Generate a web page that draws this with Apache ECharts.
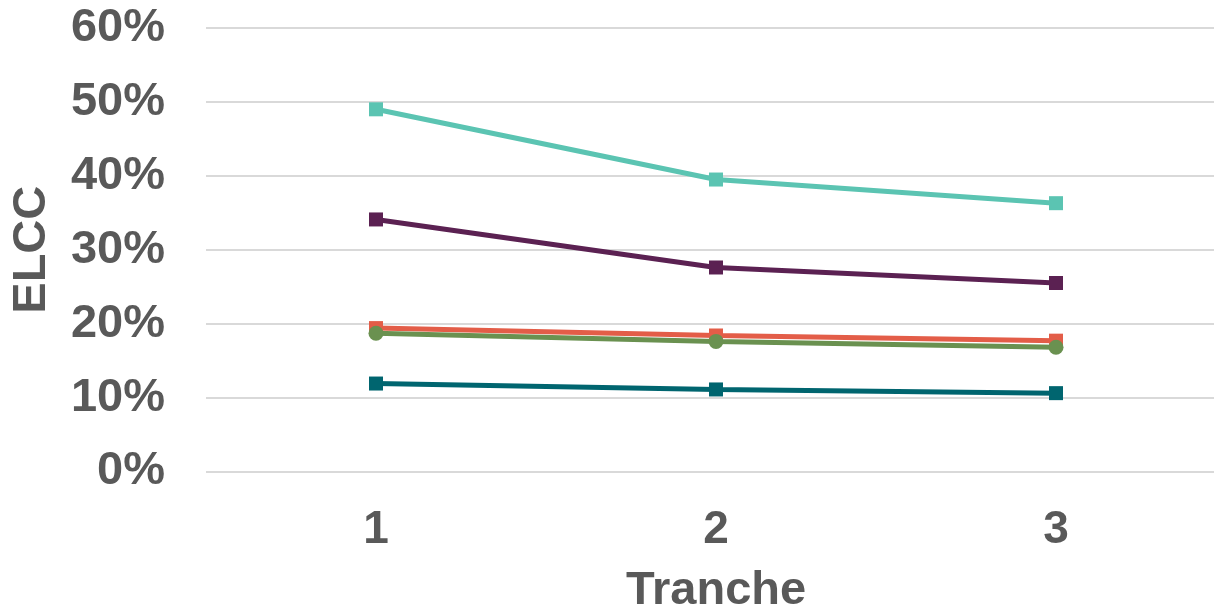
<!DOCTYPE html>
<html>
<head>
<meta charset="utf-8">
<script src="https://cdn.jsdelivr.net/npm/echarts@6/dist/echarts.min.js"></script>
<style>html,body{margin:0;padding:0;background:#fff}#c{width:1214px;height:613px}</style>
</head>
<body>
<div id="c"></div>
<script>
const categories = ['1', '2', '3'];
const seriesTeal = [49.0, 39.5, 36.3];
const seriesPurple = [34.1, 27.6, 25.5];
const seriesRed = [19.4, 18.4, 17.7];
const seriesGreen = [18.7, 17.6, 16.8];
const seriesDarkTeal = [11.9, 11.1, 10.6];
const yTicks = [0, 10, 20, 30, 40, 50, 60];

const txt = '#595959';
const font = 'Liberation Sans, Arial, sans-serif';
function mk(name, data, color, symbol) {
  return {
    name, type: 'line', data,
    symbol, symbolSize: symbol === 'circle' ? 15 : 14,
    lineStyle: { color, width: 5 },
    itemStyle: { color },
    emphasis: { disabled: true },
    animation: false
  };
}
const chart = echarts.init(document.getElementById('c'), null, { renderer: 'canvas' });
chart.setOption({
  animation: false,
  grid: { left: 206, width: 1020, top: 28, height: 443.5, containLabel: false, outerBoundsMode: 'none' },
  xAxis: {
    type: 'category', data: categories, boundaryGap: true,
    axisLine: { show: false }, axisTick: { show: false },
    axisLabel: { color: txt, fontSize: 46, fontWeight: 'bold', fontFamily: font, margin: 36 },
    name: 'Tranche', nameLocation: 'middle', nameGap: 96,
    nameTextStyle: { color: txt, fontSize: 47, fontWeight: 'bold', fontFamily: font }
  },
  yAxis: {
    type: 'value', min: yTicks[0], max: yTicks[yTicks.length - 1], interval: 10,
    axisLine: { show: false }, axisTick: { show: false },
    axisLabel: { color: txt, fontSize: 47, fontWeight: 'bold', fontFamily: font, margin: 41, formatter: v => v + '%' },
    splitLine: { lineStyle: { color: '#d9d9d9', width: 2 } },
    name: 'ELCC', nameLocation: 'middle', nameGap: 150,
    nameTextStyle: { color: txt, fontSize: 47, fontWeight: 'bold', fontFamily: font }
  },
  series: [
    mk('A', seriesTeal, '#5BC4B2', 'rect'),
    mk('B', seriesPurple, '#5B2152', 'rect'),
    mk('C', seriesDarkTeal, '#00656F', 'rect'),
    mk('D', seriesRed, '#E35D48', 'rect'),
    mk('E', seriesGreen, '#6A9150', 'circle')
  ]
});
</script>
</body>
</html>
